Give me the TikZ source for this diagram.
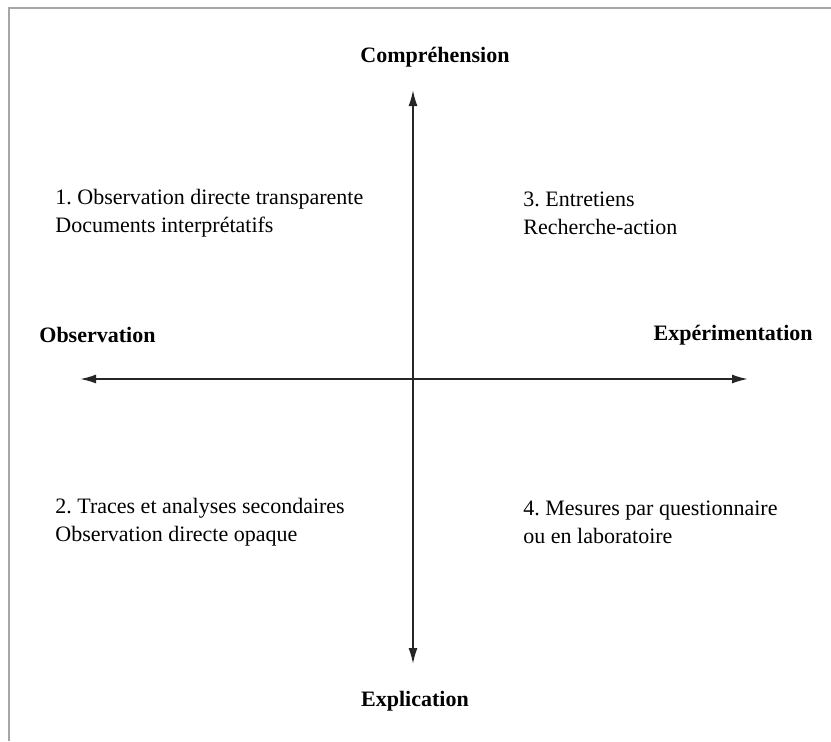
\documentclass[tikz,border=0pt]{standalone}
\usepackage{fontspec}
\setmainfont{Liberation Serif}
\usetikzlibrary{arrows.meta, positioning}
\frenchspacing

\begin{document}
\begin{tikzpicture}[
        x=0.5pt, y=-0.5pt,
        axis/.style={draw=black!85, line width=0.9pt, {Latex[length=8pt,width=4.5pt]}-{Latex[length=8pt,width=4.5pt]}},
        pole/.style={font=\fontsize{11}{14}\selectfont\bfseries, inner sep=0pt},
        quad/.style={font=\fontsize{11}{14}\selectfont, align=left, inner sep=0pt, anchor=west}
    ]
        \useasboundingbox (0,0) rectangle (831,741);
        \fill[white] (0,0) rectangle (831,741);
        % frame
        \draw[gray!70, line width=0.9pt] (831,8) -- (9,8) -- (9,741);

        % axes
        \coordinate (W) at (80,379);
        \coordinate (E) at (748,379);
        \coordinate (N) at (413,90);
        \coordinate (S) at (413,664);
        \draw[axis] (W) -- (E);
        \draw[axis] (S) -- (N);

        % poles
        \node[pole] (comp) at (435,57) {Compréhension};
        \node[pole] (expl) at (415,701) {Explication};
        \node[pole, anchor=west] (obs) at (39,335) {Observation};
        \node[pole, anchor=east] (exp) at (813,335) {Expérimentation};

        % quadrants
        \node[quad] (q1) at (55,213) {1. Observation directe transparente\\Documents interprétatifs};
        \node[quad] (q3) at (523,213) {3. Entretiens\\Recherche-action};
        \node[quad] (q2) at (55,522) {2. Traces et analyses secondaires\\Observation directe opaque};
        \node[quad] (q4) at (523,522) {4. Mesures par questionnaire\\ou en laboratoire};
    \end{tikzpicture}
\end{document}
